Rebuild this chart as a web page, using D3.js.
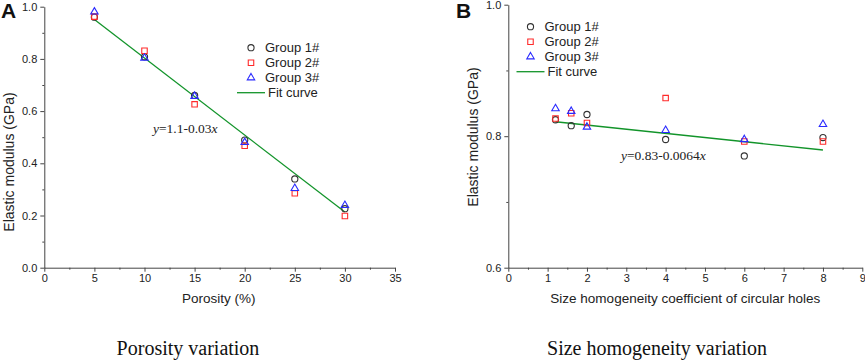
<!DOCTYPE html>
<meta charset="utf-8">
<style>
  body { margin: 0; background: #fff; }
  text { font-family: "Liberation Sans", Arial, sans-serif; fill: #222; }
  .serif { font-family: "Liberation Serif", "Times New Roman", serif; }
  .domain, .tick line { stroke: #444; }
</style>
<body>
<script src="https://d3js.org/d3.v7.min.js"></script>
<script>
// ---- panel A: porosity ----
var porosity = [5, 10, 15, 20, 25, 30];
var porG1 = [0.96, 0.808, 0.66, 0.489, 0.34, 0.226];
var porG2 = [0.962, 0.831, 0.626, 0.467, 0.285, 0.198];
var porG3 = [0.98, 0.803, 0.657, 0.48, 0.304, 0.239];
var porFitX = [5, 30];
var porFitY = [0.951, 0.213];
var porXTicks = [0, 5, 10, 15, 20, 25, 30, 35];
var porYTicks = [0, 0.2, 0.4, 0.6, 0.8, 1.0];

// ---- panel B: size homogeneity ----
var homog = [1.2, 1.6, 2, 4, 6, 8];
var homG1 = [0.825, 0.816, 0.833, 0.795, 0.770, 0.798];
var homG2 = [0.827, 0.835, 0.820, 0.858, 0.792, 0.792];
var homG3 = [0.842, 0.838, 0.814, 0.809, 0.795, 0.818];
var homFitX = [1.2, 8];
var homFitY = [0.822, 0.779];
var homXTicks = [0, 1, 2, 3, 4, 5, 6, 7, 8, 9];
var homYTicks = [0.6, 0.8, 1.0];

var groupNames = ["Group 1#", "Group 2#", "Group 3#", "Fit curve"];

var svg = d3.select("body").append("svg")
  .attr("width", 865)
  .attr("height", 362);

function panel(o) {
  var x = d3.scaleLinear().domain(o.xDomain).range(o.xRange);
  var y = d3.scaleLinear().domain(o.yDomain).range(o.yRange);
  var g = svg.append("g");

  // minor ticks
  g.append("g")
    .attr("transform", "translate(0," + o.yRange[0] + ")")
    .call(d3.axisBottom(x).tickValues(o.xMinor).tickSize(2).tickFormat(""))
    .select(".domain").remove();
  g.append("g")
    .attr("transform", "translate(" + o.xRange[0] + ",0)")
    .call(d3.axisLeft(y).tickValues(o.yMinor).tickSize(2).tickFormat(""))
    .select(".domain").remove();

  // major axes
  g.append("g")
    .attr("transform", "translate(0," + o.yRange[0] + ")")
    .call(d3.axisBottom(x).tickValues(o.xTicks).tickSize(4).tickSizeOuter(0).tickPadding(3)
      .tickFormat(d3.format("d")))
    .call(function(a) { a.selectAll("text").style("font-size", "11px"); });
  g.append("g")
    .attr("transform", "translate(" + o.xRange[0] + ",0)")
    .call(d3.axisLeft(y).tickValues(o.yTicks).tickSize(4).tickSizeOuter(0).tickPadding(3)
      .tickFormat(d3.format(".1f")))
    .call(function(a) { a.selectAll("text").style("font-size", "11px"); });

  // fit line
  g.append("path")
    .datum(d3.zip(o.fitX, o.fitY))
    .attr("d", d3.line().x(function(d) { return x(d[0]); }).y(function(d) { return y(d[1]); }))
    .style("fill", "none")
    .style("stroke", "#12942a")
    .style("stroke-width", 1.3);

  // markers
  var sym = [d3.symbolCircle, d3.symbolSquare, d3.symbolTriangle];
  var size = [30, 30, 24];
  var col = ["#333", "#ff2a2a", "#2a2aff"];
  [o.g1, o.g2, o.g3].forEach(function(vals, k) {
    g.append("g").selectAll("path")
      .data(d3.zip(o.xs, vals))
      .enter().append("path")
      .attr("transform", function(d) { return "translate(" + x(d[0]) + "," + y(d[1]) + ")"; })
      .attr("d", d3.symbol().type(sym[k]).size(size[k]))
      .style("fill", "none")
      .style("stroke", col[k])
      .style("stroke-width", 1.1);
  });

  // legend
  var lg = g.append("g");
  [0, 1, 2].forEach(function(k) {
    lg.append("path")
      .attr("transform", "translate(" + o.legX + "," + (o.legY + k * 15) + ")")
      .attr("d", d3.symbol().type(sym[k]).size(size[k]))
      .style("fill", "none").style("stroke", col[k]).style("stroke-width", 1.1);
    lg.append("text")
      .attr("x", o.legX + 14).attr("y", o.legY + k * 15 + 4.5)
      .style("font-size", "13px").text(groupNames[k]);
  });
  lg.append("line")
    .attr("x1", o.legX - 14).attr("x2", o.legX + 14)
    .attr("y1", o.legY + 45).attr("y2", o.legY + 45)
    .style("stroke", "#12942a").style("stroke-width", 1.3);
  lg.append("text")
    .attr("x", o.legX + 17).attr("y", o.legY + 49.5)
    .style("font-size", "13px").text(groupNames[3]);

  // equation
  var eq = g.append("text").attr("class", "serif")
    .attr("x", o.eqX).attr("y", o.eqY).style("font-size", "13.5px");
  eq.append("tspan").style("font-style", "italic").text("y");
  eq.append("tspan").text(o.eq);
  eq.append("tspan").style("font-style", "italic").text("x");

  // axis titles
  g.append("text")
    .attr("x", (o.xRange[0] + o.xRange[1]) / 2 + o.xTitleDx).attr("y", 303)
    .attr("text-anchor", "middle").style("font-size", "13.5px").text(o.xTitle);
  g.append("text")
    .attr("transform", "translate(" + o.yTitleX + "," + o.yTitleY + ") rotate(-90)")
    .attr("text-anchor", "middle").style("font-size", "14px").text("Elastic modulus (GPa)");

  // panel letter
  g.append("text")
    .attr("x", o.letterX).attr("y", 18)
    .style("font-size", "21px").style("font-weight", "bold").style("fill", "#111")
    .text(o.letter);

  // caption
  g.append("text").attr("class", "serif")
    .attr("x", o.capX).attr("y", 355)
    .attr("text-anchor", "middle").style("font-size", "20px").style("fill", "#111")
    .text(o.caption);
}

panel({
  xDomain: [0, 35], yDomain: [0, 1],
  xRange: [44.3, 395], yRange: [267.7, 6.7],
  xTicks: porXTicks, yTicks: porYTicks,
  xMinor: [2.5, 7.5, 12.5, 17.5, 22.5, 27.5, 32.5],
  yMinor: [0.1, 0.3, 0.5, 0.7, 0.9],
  xs: porosity, g1: porG1, g2: porG2, g3: porG3,
  fitX: porFitX, fitY: porFitY,
  legX: 251, legY: 47.7,
  eqX: 153, eqY: 133, eq: "=1.1-0.03",
  xTitle: "Porosity (%)", xTitleDx: -1, yTitleX: 14, yTitleY: 162,
  letter: "A", letterX: 1,
  caption: "Porosity variation", capX: 188
});

panel({
  xDomain: [0, 9], yDomain: [0.6, 1.0],
  xRange: [508.3, 862.3], yRange: [267.7, 4.7],
  xTicks: homXTicks, yTicks: homYTicks,
  xMinor: [0.5, 1.5, 2.5, 3.5, 4.5, 5.5, 6.5, 7.5, 8.5],
  yMinor: [0.7, 0.9],
  xs: homog, g1: homG1, g2: homG2, g3: homG3,
  fitX: homFitX, fitY: homFitY,
  legX: 530.5, legY: 26.7,
  eqX: 621, eqY: 160, eq: "=0.83-0.0064",
  xTitle: "Size homogeneity coefficient of circular holes", xTitleDx: 0, yTitleX: 478, yTitleY: 137,
  letter: "B", letterX: 456,
  caption: "Size homogeneity variation", capX: 657
});
</script>
</body>
